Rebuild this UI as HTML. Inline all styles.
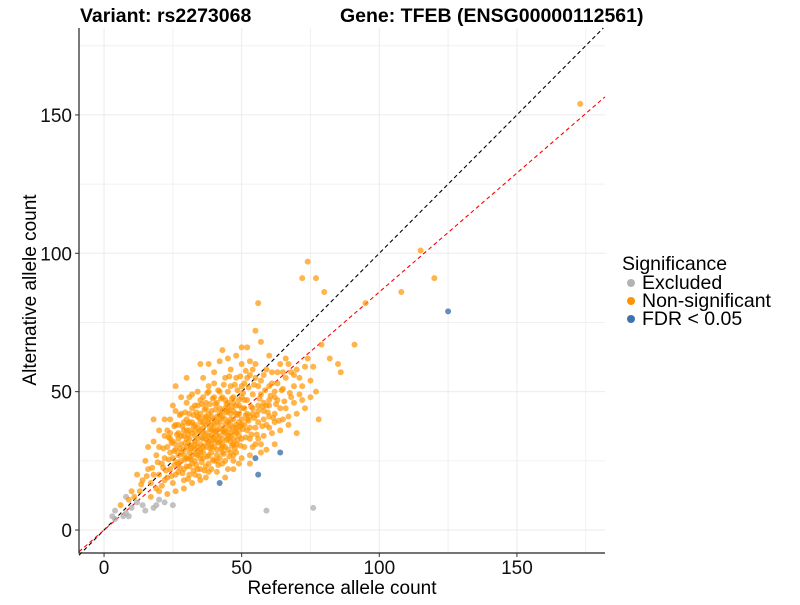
<!DOCTYPE html>
<html><head><meta charset="utf-8"><style>
body{margin:0;background:#fff;}
svg text{font-family:"Liberation Sans",Arial,sans-serif;}
</style></head><body>
<svg id="chart" width="800" height="600" xmlns="http://www.w3.org/2000/svg">
<rect width="800" height="600" fill="#fff"/>
<g id="grid"></g>
<g id="lines"></g>
<g id="pts"></g>
<g id="axes"></g>
<text x="80" y="22" font-size="19.5" font-weight="bold">Variant: rs2273068</text>
<text x="340" y="22" font-size="19.5" font-weight="bold">Gene: TFEB (ENSG00000112561)</text>
<text x="342" y="594" font-size="19" text-anchor="middle">Reference allele count</text>
<text transform="translate(36,290) rotate(-90)" font-size="19" text-anchor="middle">Alternative allele count</text>
<g>
<text x="622" y="270" font-size="19.5">Significance</text>
<g><circle cx="631" cy="283" r="4" fill="#b3b3b3"/><text x="642" y="289" font-size="19.5">Excluded</text></g>
<g><circle cx="631" cy="301" r="4" fill="#ff9400"/><text x="642" y="307" font-size="19.5">Non-significant</text></g>
<g><circle cx="631" cy="319" r="4" fill="#3f72ad"/><text x="642" y="325" font-size="19.5">FDR &lt; 0.05</text></g>
</g>
</svg>
<script>
const xTicks=[0,50,100,150];
const yTicks=[0,50,100,150];
const minorTicks=[25,75,125,175];
const xDomain=[-9.1,182];
const yDomain=[-8.3,181.4];
const redSlope=[0.86];
const excluded=[[3,5],[4,7],[7,5],[8,6],[9,5],[10,8],[12,10],[15,7],[18,8],[19,9],[22,10],[25,9],[59,7],[76,8],[8,12],[4,4],[20,11],[14,9]];
const fdr=[[42,17],[55,26],[56,20],[64,28],[125,79]];
const nonsig=[[173,154],[115,101],[120,91],[108,86],[95,82],[91,67],[72,91],[74,97],[77,91],[80,86],[56,82],[79,67],[82,62],[85,60],[86,57],[78,40],[70,42],[65,40],[60,45],[58,40],[62,50],[66,55],[70,58],[74,62],[76,59],[68,48],[72,52],[64,60],[60,63],[57,68],[55,72],[52,66],[50,60],[48,63],[46,58],[44,55],[42,61],[40,57],[38,52],[36,55],[34,50],[30,55],[28,48],[25,45],[22,40],[20,36],[18,32],[15,25],[12,20],[10,14],[14,18],[16,22],[19,27],[21,24],[23,30],[24,35],[26,38],[27,33],[29,36],[30,40],[31,31],[32,44],[33,38],[34,27],[35,42],[36,33],[37,46],[38,39],[39,30],[40,48],[41,36],[42,44],[43,28],[44,40],[45,50],[46,35],[47,46],[48,31],[49,42],[50,52],[51,38],[52,47],[53,33],[54,44],[55,55],[56,39],[57,49],[58,34],[59,45],[60,37],[61,53],[62,42],[63,47],[64,36],[65,51],[66,44],[67,38],[68,57],[69,46],[70,35],[71,49],[73,44],[75,54],[20,20],[22,18],[24,22],[25,26],[26,20],[27,24],[28,28],[29,22],[30,26],[31,20],[32,24],[33,29],[34,22],[35,26],[36,30],[37,23],[38,27],[39,34],[40,25],[41,29],[42,32],[43,36],[44,30],[45,33],[46,38],[47,27],[48,35],[49,39],[50,33],[51,44],[52,36],[53,41],[54,30],[55,37],[56,43],[57,31],[58,46],[59,38],[60,41],[61,35],[62,39],[30,33],[31,36],[32,30],[33,34],[34,37],[35,31],[36,39],[37,35],[38,42],[39,38],[40,33],[41,41],[42,37],[43,43],[44,35],[45,39],[46,42],[47,37],[48,45],[49,34],[50,40],[51,47],[52,42],[53,37],[54,49],[28,31],[29,34],[30,30],[31,28],[32,35],[33,32],[34,33],[35,36],[36,35],[37,38],[38,32],[39,36],[40,40],[41,34],[42,39],[43,33],[44,38],[45,43],[46,32],[47,40],[48,38],[49,47],[50,44],[22,26],[24,28],[25,32],[26,29],[27,27],[28,25],[29,29],[30,23],[31,33],[32,27],[33,25],[34,30],[35,28],[36,26],[37,30],[38,24],[39,28],[40,30],[41,27],[42,26],[43,31],[44,25],[45,29],[46,28],[47,33],[48,28],[17,17],[18,20],[19,15],[21,16],[23,19],[25,17],[27,21],[29,18],[31,23],[33,20],[35,22],[37,19],[39,22],[41,21],[43,24],[45,22],[47,25],[49,24],[51,30],[53,27],[55,31],[57,28],[20,30],[22,34],[24,40],[26,43],[28,42],[30,46],[32,49],[34,45],[36,48],[38,50],[40,53],[42,50],[44,47],[46,52],[48,55],[50,48],[52,55],[54,58],[56,52],[58,56],[60,52],[63,57],[66,62],[69,52],[72,47],[75,48],[77,50],[18,40],[16,30],[26,52],[35,60],[43,65],[45,62],[50,66],[53,61],[38,60],[31,48],[27,38],[23,36],[64,44],[67,41],[62,31],[59,29],[56,33],[53,24],[50,26],[47,22],[44,19],[41,25],[38,21],[35,18],[32,17],[29,15],[26,14],[23,13],[20,14],[17,12],[13,14],[11,12],[9,11],[6,9],
[30.5,34.5],[32.5,37.5],[34.5,35.5],[36.5,40.5],[38.5,36.5],[40.5,43.5],[42.5,40.5],[44.5,45.5],[46.5,44.5],[48.5,41.5],[31.5,29.5],[33.5,27.5],[35.5,33.5],[37.5,31.5],[39.5,32.5],[41.5,31.5],[43.5,35.5],[45.5,36.5],[47.5,35.5],[49.5,37.5],[29.5,31.5],[27.5,29.5],[25.5,28.5],[23.5,25.5],[21.5,22.5],[24.5,31.5],[26.5,34.5],[28.5,37.5],[30.5,38.5],[32.5,41.5],[34.5,40.5],[36.5,43.5],[38.5,45.5],[40.5,45.5],[42.5,47.5],[44.5,42.5],[46.5,47.5],[48.5,50.5],[50.5,49.5],[52.5,51.5],[54.5,52.5],[56.5,47.5],[58.5,50.5],[60.5,48.5],[62.5,45.5],[64.5,50.5],[51.5,41.5],[53.5,44.5],[55.5,41.5],[57.5,44.5],[59.5,42.5],[61.5,40.5],[63.5,39.5],[65.5,46.5],[67.5,49.5],[33.5,23.5],[35.5,24.5],[37.5,26.5],[39.5,25.5],[41.5,23.5],[43.5,27.5],[45.5,26.5],[47.5,29.5],[49.5,30.5],[51.5,33.5],[53.5,34.5],[55.5,34.5],[57.5,37.5],[25.5,23.5],[27.5,22.5],[29.5,25.5],[31.5,25.5],[28.5,20.5],[30.5,18.5],[32.5,21.5],[34.5,19.5],[36.5,21.5],[24.5,19.5],[22.5,21.5],[26.5,24.5],[38.5,29.5],[40.5,35.5],[42.5,29.5],[44.5,32.5],[46.5,30.5],[48.5,32.5],[50.5,36.5],[52.5,39.5],[54.5,40.5],[33.5,42.5],[35.5,45.5],[37.5,49.5],[39.5,47.5],[41.5,50.5],[43.5,52.5],[45.5,55.5],[47.5,52.5],[49.5,55.5],[51.5,57.5],[29.5,42.5],[27.5,41.5],[25.5,37.5],[23.5,33.5],[21.5,29.5],[19.5,24.5],[17.5,22.5],[15.5,19.5],[13.5,16.5],[24,33],[26,31],[28,34],[30,36],[32,39],[34,41],[36,37],[38,40],[40,38],[42,42],[44,44],[46,40],[48,42],[31,39],[33,36],[35,39],[37,41],[39,43],[41,39],[43,41],[45,46],[47,43],[49,45],[29,27],[31,26],[33,31],[35,29],[37,33],[39,31],[41,32],[43,30],[45,34],[47,31],[49,36],[27,35],[29,39],[31,42],[33,45],[35,47],[37,44],[39,41],[41,46],[43,48],[45,44],[47,48],[36,28],[38,34],[40,36],[42,34],[44,36],[46,34],[48,37],[50,38],[52,40],[54,42],[56,45],[58,43],[60,47],[62,48],[57,54],[59,58],[61,57],[55,60],[53,56],[51,53],[65,57],[67,60],[69,56],[71,55],[73,59],[63,53]];
const X0=79,X1=605,Y0=553,Y1=28;
function sx(v){return X0+(v-xDomain[0])/(xDomain[1]-xDomain[0])*(X1-X0);}
function sy(v){return Y0-(v-yDomain[0])/(yDomain[1]-yDomain[0])*(Y0-Y1);}
const NS='http://www.w3.org/2000/svg';
function mk(tag,attrs,parent){const e=document.createElementNS(NS,tag);for(const k in attrs)e.setAttribute(k,attrs[k]);parent.appendChild(e);return e;}
const grid=document.getElementById('grid');
minorTicks.forEach(t=>{
 if(t<xDomain[1]){const l=mk('line',{x1:sx(t),x2:sx(t),y1:Y1,y2:Y0,stroke:'#f0f0f0','stroke-width':1},grid);
 
 }
 if(t<yDomain[1]){const l2=mk('line',{x1:X0,x2:X1,y1:sy(t),y2:sy(t),stroke:'#f0f0f0','stroke-width':1},grid);
 
 }
});
const axes=document.getElementById('axes');
xTicks.forEach(t=>{
 const l=mk('line',{x1:sx(t),x2:sx(t),y1:Y1,y2:Y0,stroke:'#ebebeb','stroke-width':1},grid);
 
 
 const tk=mk('line',{x1:sx(t),x2:sx(t),y1:Y0,y2:Y0+4,stroke:'#333'},axes);
 
 
 const tx=mk('text',{x:sx(t),y:Y0+21,'font-size':19,'text-anchor':'middle',fill:'#111'},axes);
 tx.textContent=t;
 
 
});
yTicks.forEach(t=>{
 const l=mk('line',{x1:X0,x2:X1,y1:sy(t),y2:sy(t),stroke:'#ebebeb','stroke-width':1},grid);
 
 
 const tk=mk('line',{x1:X0-4,x2:X0,y1:sy(t),y2:sy(t),stroke:'#333'},axes);
 
 
 const tx=mk('text',{x:X0-7,y:sy(t)+7,'font-size':19,'text-anchor':'end',fill:'#111'},axes);
 tx.textContent=t;
 
 
});
const ax=mk('path',{d:`M${X0},${Y1}V${Y0}H${X1}`,fill:'none',stroke:'#222','stroke-width':1.2},axes);


const pts=document.getElementById('pts');
function draw(arr,color,op,name){arr.forEach(p=>{
 const c=mk('circle',{cx:sx(p[0]),cy:sy(p[1]),r:3,fill:color,'fill-opacity':op},pts);
 
 
});}
draw(excluded,'#b3b3b3',0.8,'point-excluded');
draw(nonsig,'#ff9400',0.7,'point-non-significant');
draw(fdr,'#3f72ad',0.8,'point-fdr');
const lines=document.getElementById('lines');
const lo=xDomain[0],hi=xDomain[1];
const bl=mk('line',{x1:sx(lo),y1:sy(lo),x2:sx(yDomain[1]),y2:sy(yDomain[1]),stroke:'#000','stroke-width':1.1,'stroke-dasharray':'4,3'},lines);


const rl=mk('line',{x1:sx(lo),y1:sy(lo*redSlope[0]),x2:sx(hi),y2:sy(hi*redSlope[0]),stroke:'#ff0000','stroke-width':1.1,'stroke-dasharray':'4,3'},lines);


</script>
</body></html>
